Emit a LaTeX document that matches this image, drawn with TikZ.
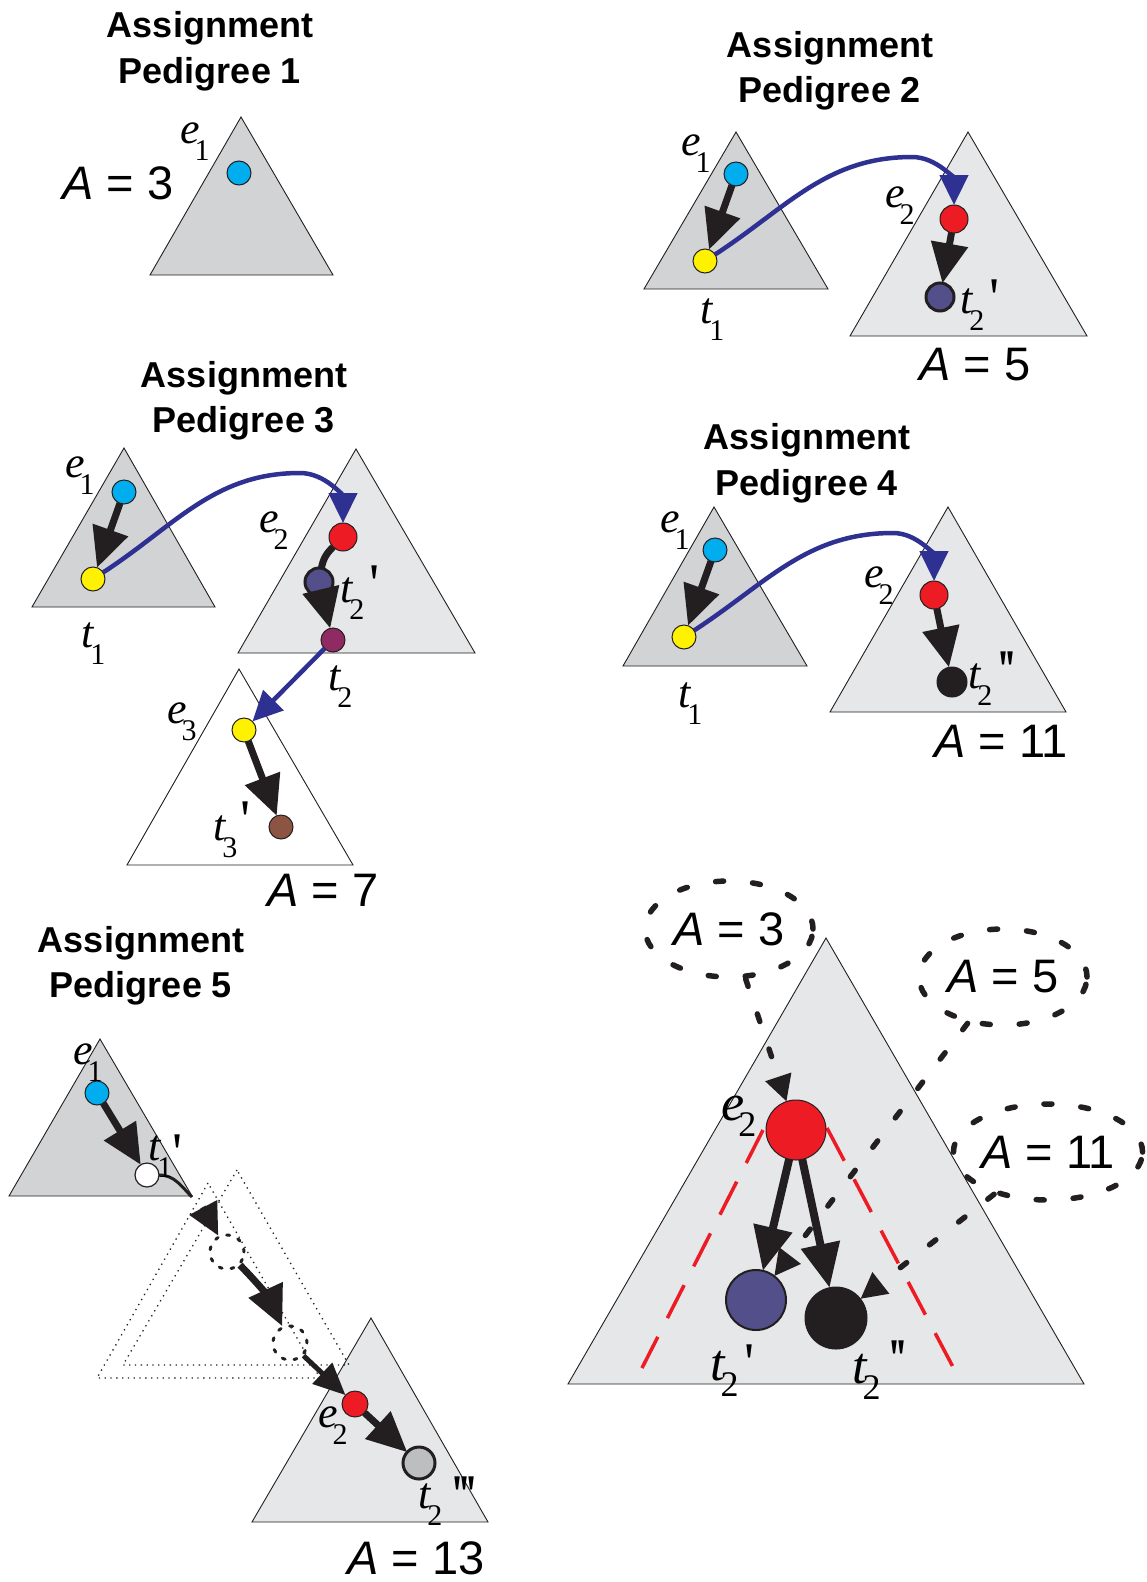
\documentclass[tikz,border=0pt]{standalone}
\usepackage{fontspec}
\newfontfamily\hv{Liberation Sans}
\newfontfamily\tms{Liberation Serif}
\newfontfamily\tmsq[Ligatures=TeXOff]{Liberation Serif}
\usetikzlibrary{arrows.meta,shapes.geometric}
\definecolor{ink}{HTML}{231F20}
\definecolor{dkg}{HTML}{D1D3D4}
\definecolor{ltg}{HTML}{E6E7E8}
\definecolor{cyanD}{HTML}{00AEEF}
\definecolor{yel}{HTML}{FFF200}
\definecolor{redD}{HTML}{ED1C24}
\definecolor{purp}{HTML}{524F8A}
\definecolor{mag}{HTML}{8F2A62}
\definecolor{brn}{HTML}{8C5442}
\definecolor{blu}{HTML}{2E3192}
\definecolor{gryD}{HTML}{BCBEC0}
\newcommand{\elab}[3][-5pt]{{\fontsize{44}{44}\selectfont\tms\itshape #2}\kern#1\raisebox{-17pt}{\fontsize{30}{30}\selectfont\tms #3}}
\newcommand{\Elab}[3][-6pt]{{\fontsize{52}{52}\selectfont\tms\itshape #2}\kern#1\raisebox{-16pt}{\fontsize{36}{36}\selectfont\tms #3}}
\newcommand{\prm}[3]{\kern#1\raisebox{#2}{\fontsize{56}{56}\selectfont\tmsq #3}}
\newcommand{\Aeq}[1]{{\itshape A} = #1}
\begin{document}
\begin{tikzpicture}[x=1pt,y=1pt,
  tri/.style={draw=ink, line width=0.9pt},
  ball/.style={circle, draw=ink, line width=1pt, inner sep=0pt, outer sep=0pt, minimum size=#1},
  ball/.default=24pt,
  ttl/.style={font={\hv\bfseries\fontsize{36}{36}\selectfont}, inner sep=0pt, anchor=base},
  alab/.style={font={\hv\fontsize{47}{47}\selectfont}, inner sep=0pt, anchor=base},
  lbl/.style={inner sep=0pt, anchor=base west},
  blk/.style={draw=ink, line width=7pt, -{Triangle[length=40pt,width=36pt]}},
  blkA/.style={draw=ink, line width=6pt, -{Triangle[length=32pt,width=30pt]}},
  blkC/.style={draw=ink, line width=5pt, -{Triangle[length=32pt,width=28pt]}},
  blkbig/.style={draw=ink, line width=8pt, -{Triangle[length=44pt,width=38pt]}},
  bluarr/.style={draw=blu, line width=4.5pt, -{Triangle[length=30pt,width=28pt]}},
  dsh/.style={draw=ink, line width=5.5pt, line cap=round, dash pattern=on 8pt off 29pt},
  dshar/.style={dsh, -{Triangle[length=26pt,width=26pt]}},
  dotted tri/.style={draw=ink, line width=1.3pt, dash pattern=on 1.3pt off 4.5pt},
  dcirc/.style={circle, draw=ink, line width=3pt, line cap=round, dash pattern=on 3pt off 9pt, inner sep=0pt, minimum size=34pt},
  ell/.style={ellipse, dsh, inner sep=0pt, minimum width=168pt, minimum height=96pt, font={\hv\fontsize{47}{47}\selectfont}},
  reddash/.style={draw=redD, line width=3.5pt, dash pattern=on 37pt off 21pt}
]
\useasboundingbox (0,0) rectangle (1146,-1582);
\fill[white] (0,0) rectangle (1146,-1582);

% ---------- triangles ----------
\filldraw[tri, fill=dkg] (241,-117) -- (150,-275) -- (333,-275) -- cycle;
\filldraw[tri, fill=dkg] (736,-132) -- (644,-289) -- (828,-289) -- cycle;
\filldraw[tri, fill=ltg] (968,-132) -- (850,-336) -- (1087,-336) -- cycle;
\filldraw[tri, fill=dkg] (124,-448) -- (32,-607) -- (215,-607) -- cycle;
\filldraw[tri, fill=ltg] (356,-449) -- (238,-653) -- (475,-653) -- cycle;
\filldraw[tri, fill=white] (239,-669) -- (127,-865) -- (353,-865) -- cycle;
\filldraw[tri, fill=dkg] (714,-507) -- (623,-666) -- (807,-666) -- cycle;
\filldraw[tri, fill=ltg] (948,-507) -- (830,-712) -- (1066,-712) -- cycle;
\filldraw[tri, fill=dkg] (100,-1039) -- (9,-1196) -- (192,-1196) -- cycle;
\filldraw[tri, fill=ltg] (371,-1318) -- (252,-1522) -- (488,-1522) -- cycle;
\filldraw[tri, fill=ltg] (826,-938) -- (568,-1384) -- (1084,-1384) -- cycle;
\draw[dotted tri] (237,-1170) -- (123,-1365) -- (349,-1365) -- cycle;
\draw[dotted tri] (208,-1183) -- (97,-1378) -- (320,-1378) -- cycle;
\draw[reddash] (763,-1130) -- (642,-1368);
\draw[reddash] (827,-1128) -- (953,-1367);

% ---------- titles ----------
\node[ttl] (t1a) at (210,-37) {Assignment};
\node[ttl] (t1b) at (210,-83) {Pedigree 1};
\node[ttl] (t2a) at (830,-57) {Assignment};
\node[ttl] (t2b) at (830,-102) {Pedigree 2};
\node[ttl] (t3a) at (244,-387) {Assignment};
\node[ttl] (t3b) at (244,-432) {Pedigree 3};
\node[ttl] (t4a) at (807,-449) {Assignment};
\node[ttl] (t4b) at (807,-495) {Pedigree 4};
\node[ttl] (t5a) at (141,-952) {Assignment};
\node[ttl] (t5b) at (141,-997) {Pedigree 5};

% ---------- A labels ----------
\node[alab] (a1) at (118,-199) {\Aeq{3}};
\node[alab] (a2) at (975,-380) {\Aeq{5}};
\node[alab] (a3) at (323,-906) {\Aeq{7}};
\node[alab] (a4) at (1001,-757) {\Aeq{11}};
\node[alab] (a5) at (416,-1574) {\Aeq{13}};

% ---------- dots ----------
\node[ball, fill=cyanD] (p1b) at (239,-173) {};
\node[ball, fill=cyanD] (p2b) at (736,-174) {};
\node[ball, fill=yel] (p2y) at (705,-261) {};
\node[ball=28pt, fill=redD] (p2r) at (954,-219) {};
\node[ball=28pt, fill=purp, line width=3pt] (p2p) at (940,-297) {};
\coordinate (pk2) at (912,-157);

\node[ball, fill=cyanD] (p3b) at (124,-492) {};
\node[ball, fill=yel] (p3y) at (93,-579) {};
\node[ball=28pt, fill=redD] (p3r) at (343,-537) {};
\node[ball=28pt, fill=purp, line width=3pt] (p3p) at (319,-582) {};
\node[ball, fill=mag] (p3m) at (333,-640) {};
\node[ball, fill=yel] (p3y2) at (244,-730) {};
\node[ball, fill=brn] (p3n) at (281,-827) {};
\coordinate (pk3) at (300,-473);

\node[ball, fill=cyanD] (p4b) at (715,-550) {};
\node[ball, fill=yel] (p4y) at (684,-637) {};
\node[ball=28pt, fill=redD] (p4r) at (934,-595) {};
\node[ball=30pt, fill=ink] (p4k) at (952,-682) {};
\coordinate (pk4) at (893,-533);

\node[ball, fill=cyanD] (p5b) at (97,-1093) {};
\node[ball, fill=white, line width=1.2pt] (p5w) at (147,-1175) {};
\coordinate (p5cor) at (192,-1197);
\coordinate (p5a0) at (203,-1207);
\node[dcirc] (c1) at (227,-1252) {};
\node[dcirc] (c2) at (290,-1343) {};
\node[ball=26pt, fill=redD] (p5r) at (355,-1404) {};
\node[ball=32pt, fill=gryD, line width=3pt] (p5g) at (419,-1463) {};

\node[ball=60pt, fill=redD] (br) at (796,-1130) {};
\node[ball=60pt, fill=purp, line width=2pt] (bb) at (756,-1300) {};
\node[ball=62pt, fill=ink] (bk) at (836,-1318) {};
\node[ell] (e3) at (729,-929) {\Aeq{3}};
\node[ell] (e5) at (1003,-977) {\Aeq{5}};
\node[ell] (e11) at (1048,-1152) {\Aeq{11}};

% ---------- arrows ----------
\draw[blk] (p2b) -- (p2y);
\draw[blk] (p2r) -- (p2p);
\draw[bluarr] (p2y) to[out=33,in=180] (pk2) to[out=0,in=90] (p2r);

\draw[blk] (p3b) -- (p3y);
\draw[ink, line width=7pt] (p3r) to[out=225,in=80] (p3p);
\draw[blk] (p3p) -- (p3m);
\draw[bluarr] (p3y) to[out=33,in=180] (pk3) to[out=0,in=90] (p3r);
\draw[bluarr] (p3m) -- (p3y2);
\draw[blk] (p3y2) -- (p3n);

\draw[blk] (p4b) -- (p4y);
\draw[blk] (p4r) -- (p4k);
\draw[bluarr] (p4y) to[out=33,in=180] (pk4) to[out=0,in=90] (p4r);

\draw[blk] (p5b) -- (p5w);
\draw[ink, line width=3pt] (p5w) to[out=0,in=135] (p5cor);
\draw[blkA] (p5a0) -- (c1);
\draw[blk] (c1) to[bend left=10] (c2);
\draw[blkC] (c2) -- (p5r);
\draw[blk] (p5r) -- (p5g);

\draw[blkbig] (br) -- (bb);
\draw[blkbig] (br) -- (bk);
\draw[dshar] (e3) -- (br);
\draw[dshar] (e5) -- (bb);
\draw[dshar] (e11) -- (bk);

% ---------- e / t labels ----------
\node[lbl] (l1e1) at (180,-143) {\elab{e}{1}};

\node[lbl] (l2e1) at (681,-155) {\elab{e}{1}};
\node[lbl] (l2t1) at (700,-323) {\elab[-3pt]{t}{1}};
\node[lbl] (l2e2) at (885,-207) {\elab{e}{2}};
\node[lbl] (l2t2) at (960,-313) {\elab[-3pt]{t}{2}\prm{5pt}{-3pt}{'}};

\node[lbl] (l3e1) at (65,-477) {\elab{e}{1}};
\node[lbl] (l3t1) at (81,-647) {\elab[-3pt]{t}{1}};
\node[lbl] (l3e2) at (259,-532) {\elab{e}{2}};
\node[lbl] (l3t2p) at (340,-602) {\elab[-3pt]{t}{2}\prm{5pt}{0pt}{'}};
\node[lbl] (l3t2) at (328,-690) {\elab[-3pt]{t}{2}};
\node[lbl] (l3e3) at (167,-723) {\elab{e}{3}};
\node[lbl] (l3t3) at (213,-840) {\elab[-3pt]{t}{3}\prm{3pt}{2pt}{'}};

\node[lbl] (l4e1) at (660,-532) {\elab{e}{1}};
\node[lbl] (l4t1) at (678,-707) {\elab[-3pt]{t}{1}};
\node[lbl] (l4e2) at (864,-587) {\elab{e}{2}};
\node[lbl] (l4t2) at (968,-688) {\elab[-3pt]{t}{2}\prm{6pt}{0pt}{'\kern-3pt'}};

\node[lbl] (l5e1) at (73,-1064) {\elab{e}{1}};
\node[lbl] (l5t1) at (148,-1160) {\elab[-3pt]{t}{1}\prm{0pt}{-11pt}{'}};
\node[lbl] (l5e2) at (318,-1427) {\elab{e}{2}};
\node[lbl] (l5t2) at (418,-1508) {\elab[-3pt]{t}{2}\prm{10pt}{-5pt}{'\kern-3pt'\kern-3pt'}};

\node[lbl] (lbe2) at (721,-1120) {\Elab{e}{2}};
\node[lbl] (lbt2p) at (710,-1380) {\Elab[-4pt]{t}{2}\prm{6pt}{-1pt}{'}};
\node[lbl] (lbt2pp) at (852,-1383) {\Elab[-4pt]{t}{2}\prm{9pt}{6pt}{'\kern-3pt'}};
\end{tikzpicture}
\end{document}
